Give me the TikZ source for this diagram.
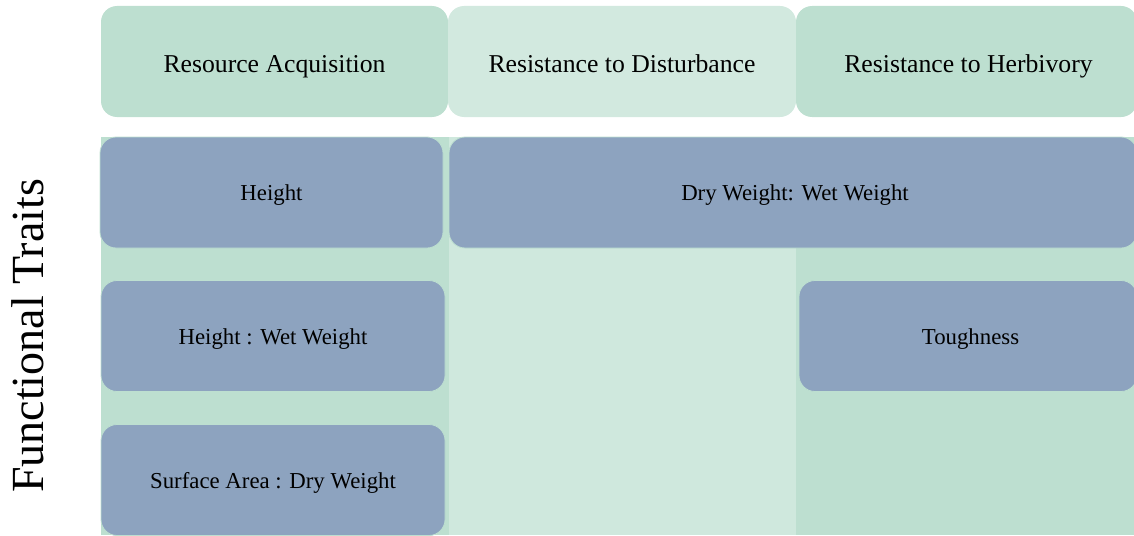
\documentclass[tikz,border=0pt]{standalone}
\usepackage{fontspec}
\setmainfont{Liberation Serif}
\usetikzlibrary{positioning}
\definecolor{sage}{HTML}{BDDFD0}
\definecolor{palesage}{HTML}{D2E9DF}
\definecolor{colsage}{HTML}{CFE8DD}
\definecolor{slate}{HTML}{8DA3BF}
\begin{document}
\begin{tikzpicture}[
  x=1pt, y=-1pt,
  hdr/.style={rectangle, rounded corners=16pt, fill=sage, align=center, minimum height=111pt, text height=27.5pt, text depth=6.4pt, font=\fontsize{25.7}{30}\selectfont},
  trait/.style={rectangle, rounded corners=16pt, fill=slate, draw=sage, line width=0.8pt, align=center, minimum height=111pt, text height=21.7pt, text depth=5.7pt, font=\fontsize{22.8}{27}\selectfont}
]
  \useasboundingbox (0,0) rectangle (1134,535);
  \clip (0,0) rectangle (1134,535);
  \fill[sage] (101,137) rectangle (449,535);
  \fill[colsage] (449,137) rectangle (796,535);
  \fill[sage] (796,137) rectangle (1134,535);
  \node[hdr, minimum width=347pt] (acq) at (274.5,61.5) {Resource Acquisition};
  \node[hdr, fill=palesage, minimum width=348pt] (dist) at (622,61.5) {Resistance to Disturbance};
  \node[hdr, minimum width=341pt] (herb) at (966.5,61.5) {\hspace*{4pt}Resistance to Herbivory};
  \node[trait, minimum width=343pt] (height) at (271.5,192.5) {Height};
  \node[trait, minimum width=688pt] (drywet) at (793,192.5) {\hspace*{4pt}Dry Weight: Wet Weight};
  \node[trait, minimum width=344pt] (hwet) at (273,336) {Height : Wet Weight};
  \node[trait, minimum width=338pt] (tough) at (968,336) {\hspace*{5pt}Toughness};
  \node[trait, minimum width=344pt] (sadry) at (273,480) {Surface Area : Dry Weight};
  \node[rotate=90, font=\fontsize{46}{50}\selectfont] (traits) at (28,336) {Functional Traits};
\end{tikzpicture}
\end{document}
